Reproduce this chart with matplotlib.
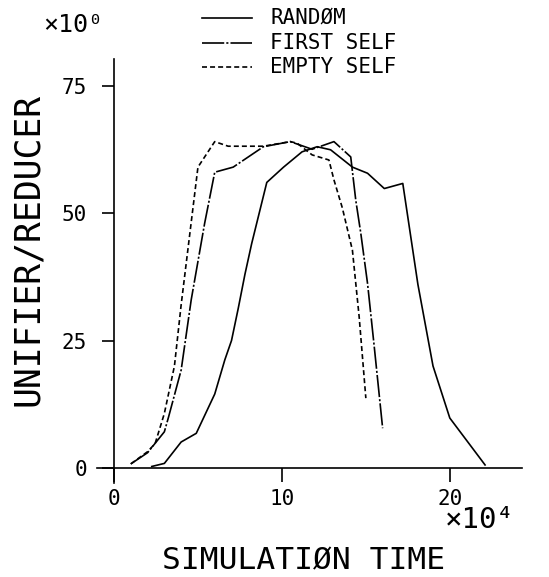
import matplotlib
matplotlib.use("Agg")
import matplotlib.pyplot as plt
from matplotlib.lines import Line2D

plt.rcParams['font.family'] = ['DejaVu Sans Mono', 'DejaVu Sans']
plt.rcParams['lines.scale_dashes'] = False

# Data (x in units of 10^4 simulation time)
random_x = [2.25, 3.0, 4.0, 4.9, 6.0, 6.6, 7.0, 7.4, 7.8, 8.2, 9.1, 10.1, 11.2, 12.1, 12.9, 14.2, 15.1, 16.1, 17.2, 18.1, 19.0, 20.0, 22.1]
random_y = [0.3, 0.9, 5.1, 6.8, 14.5, 21.2, 25.0, 31.3, 38.0, 44.0, 56.0, 59.0, 62.0, 63.0, 62.4, 59.0, 57.8, 54.8, 55.8, 36.0, 20.0, 9.8, 0.6]

first_x = [1.0, 2.0, 3.0, 3.25, 4.0, 4.6, 5.4, 6.0, 7.1, 8.9, 10.5, 11.8, 13.1, 14.1, 14.4, 14.7, 15.1, 15.5, 16.0]
first_y = [0.8, 3.0, 7.1, 10.0, 19.2, 33.0, 48.0, 58.0, 59.0, 63.0, 64.0, 62.5, 64.0, 61.0, 52.5, 46.0, 36.2, 23.8, 7.8]

empty_x = [1.0, 2.0, 2.45, 3.0, 3.6, 4.0, 5.0, 5.2, 6.0, 6.8, 8.9, 10.5, 10.9, 11.8, 12.8, 13.1, 13.6, 14.2, 14.6, 15.0]
empty_y = [0.8, 3.2, 4.8, 10.7, 20.0, 32.0, 59.0, 60.0, 64.0, 63.1, 63.1, 64.0, 63.7, 61.4, 60.4, 56.5, 51.0, 42.7, 29.7, 13.7]

series_labels = ['RANDØM', 'FIRST SELF', 'EMPTY SELF']
x_ticks = [0, 10, 20]
y_ticks = [0, 25, 50, 75]

W, H = 549, 577
fig = plt.figure(figsize=(W / 100, H / 100), dpi=100)
ax = fig.add_axes([97.2 / W, (H - 483.3) / H, (522 - 97.2) / W, (483.3 - 58.5) / H])

lw = 1.2
styles = [
    dict(color='black', lw=lw, linestyle='-'),
    dict(color='black', lw=lw, linestyle=(0, (16, 1.5, 1.5, 1.5))),
    dict(color='black', lw=lw, linestyle=(0, (3.6, 2.2))),
]
ax.plot(random_x, random_y, **styles[0])
ax.plot(first_x, first_y, **styles[1])
ax.plot(empty_x, empty_y, **styles[2])

ax.set_xlim(-1, 24.3)
ax.set_ylim(-3, 80.3)
ax.spines['left'].set_position(('data', 0))
ax.spines['bottom'].set_position(('data', 0))
ax.spines['top'].set_visible(False)
ax.spines['right'].set_visible(False)
for s in ('left', 'bottom'):
    ax.spines[s].set_linewidth(1.2)

ax.set_xticks(x_ticks)
ax.set_yticks(y_ticks)
ax.set_xticklabels([str(v) for v in x_ticks])
ax.set_yticklabels([str(v) for v in y_ticks])
ax.tick_params(axis='x', direction='out', length=10, width=1.2, pad=5, labelsize=15)
ax.tick_params(axis='y', direction='out', length=8.6, width=1.2, pad=11, labelsize=15)

# Axis titles and multipliers
fig.text(304 / W, (H - 561) / H, 'SIMULATIØN TIME', ha='center', va='center', fontsize=22.5)
fig.text(28 / W, (H - 249) / H, 'UNIFIER/REDUCER', ha='center', va='center', rotation=90, fontsize=25)
fig.text(43 / W, (H - 25) / H, '×10⁰', ha='left', va='center', fontsize=18)
fig.text(445 / W, (H - 520) / H, '×10⁴', ha='left', va='center', fontsize=21)

# Legend (manual)
rows = [18, 43, 67]
for lab, st, ry in zip(series_labels, styles, rows):
    yf = (H - ry) / H
    fig.add_artist(Line2D([202 / W, 252 / W], [yf, yf], transform=fig.transFigure, **st))
    fig.text(270 / W, yf, lab, ha='left', va='center', fontsize=15)

fig.savefig('out.png', dpi=100)
